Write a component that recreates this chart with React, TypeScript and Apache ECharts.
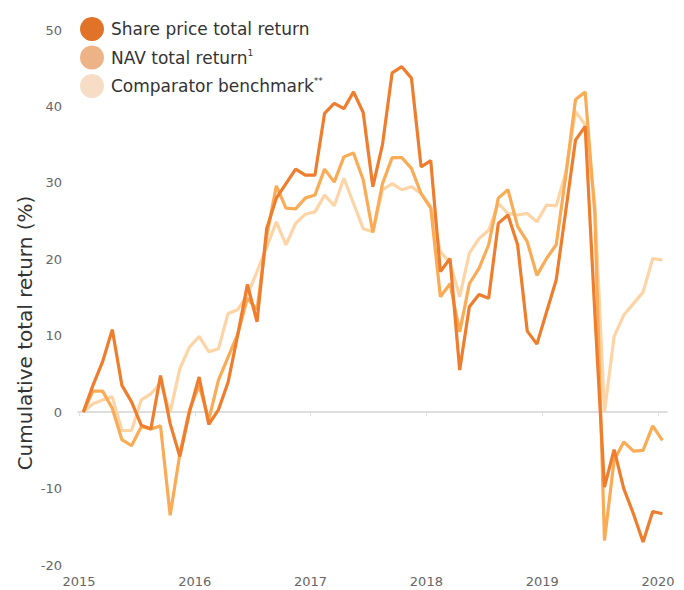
import React, { useEffect, useRef } from "react";
import * as echarts from "echarts";

// Monthly observations, Jan 2015 .. Jan 2020 (plotted mid-month)
const months: string[] = Array.from({ length: 61 }, (_, i) => {
  const y = 2015 + Math.floor(i / 12);
  const m = (i % 12) + 1;
  return `${y}-${m < 10 ? "0" + m : m}`;
});

const sharePrice = [
  0, 3.5, 6.6, 10.8, 3.5, 1.35, -1.7, -2.2, 4.8, -1.5,
  -5.8, 0, 4.6, -1.6, 0.3, 3.9, 10.1, 16.7, 11.8, 24.0,
  28.0, 29.9, 31.8, 31.0, 31.0, 39.1, 40.4, 39.7, 41.9, 39.2,
  29.5, 35.0, 44.4, 45.2, 43.7, 32.1, 32.9, 18.4, 20.1, 5.5,
  13.8, 15.4, 14.9, 24.7, 25.8, 21.9, 10.6, 8.9, 13.1, 17.3,
  26.4, 35.6, 37.4, 13, -9.8, -4.9, -10.0, -13.3, -17.0, -13.0, -13.3,
];

const navReturn = [
  0, 2.75, 2.75, 0.5, -3.6, -4.4, -1.9, -2.2, -1.8, -13.5,
  -5.5, 0.3, 3.5, -1.0, 4.2, 7.2, 10.2, 14.9, 13.4, 23.0,
  29.6, 26.7, 26.6, 28.0, 28.4, 31.8, 30.1, 33.4, 33.9, 30.4,
  23.5, 29.9, 33.3, 33.3, 31.9, 28.6, 26.7, 15.1, 16.8, 10.5,
  16.8, 18.8, 21.9, 28.0, 29.1, 24.3, 22.3, 17.9, 20.1, 21.9,
  31, 40.9, 41.9, 26, -16.8, -6.3, -3.9, -5.1, -5.0, -1.8, -3.7,
];

const benchmark = [
  0, 1.1, 1.6, 2.0, -2.4, -2.4, 1.6, 2.4, 3.8, 0,
  5.7, 8.5, 9.9, 7.9, 8.3, 12.9, 13.4, 15.3, 18.4, 21.6,
  24.9, 21.9, 24.7, 25.9, 26.2, 28.4, 27.0, 30.6, 27.3, 24.0,
  23.6, 29.1, 29.9, 29.1, 29.5, 28.6, 26.9, 21.0, 19.5, 15.1,
  20.8, 22.7, 23.8, 27.3, 26.0, 25.8, 26.0, 24.9, 27.1, 27.0,
  31.4, 39.3, 37.6, 27.3, 0, 9.9, 12.7, 14.2, 15.7, 20.1, 19.9,
];

const yearTicks = [2015, 2016, 2017, 2018, 2019, 2020];

const seriesNames = [
  "Share price total return",
  "NAV total return¹",
  "Comparator benchmark**",
];

const FONT = "'DejaVu Sans', 'Open Sans', sans-serif";

// month index -> x position (month 0 starts at Jan 1 2015; points mid-month)
const toPairs = (vals: number[]) =>
  vals.map((v, i) => [months.indexOf(months[i]) + 0.45, v]);

export default function App() {
  const ref = useRef<HTMLDivElement>(null);

  useEffect(() => {
    if (!ref.current) return;
    const chart = echarts.init(ref.current, undefined, { renderer: "svg" });
    const tickVals = yearTicks.map((y) => (y - 2015) * 12);

    chart.setOption({
      animation: false,
      textStyle: { fontFamily: FONT },
      grid: { left: 78, right: 17, top: 30, bottom: 25, containLabel: false },
      legend: {
        orient: "vertical",
        left: 75,
        top: 12,
        itemWidth: 24,
        itemHeight: 24,
        itemGap: 4.5,
        icon: "circle",
        selectedMode: false,
        data: [
          { name: seriesNames[0], itemStyle: { color: "#E07328" } },
          { name: seriesNames[1], itemStyle: { color: "#EDB285" } },
          { name: seriesNames[2], itemStyle: { color: "#F7DCC6" } },
        ],
        formatter: (name: string) => {
          if (name === seriesNames[1]) return "NAV total return{sup|1}";
          if (name === seriesNames[2]) return "Comparator benchmark{sup|**}";
          return name;
        },
        textStyle: {
          fontFamily: FONT,
          fontSize: 17,
          color: "#333",
          padding: [0, 0, 0, 2],
          rich: {
            sup: {
              fontFamily: FONT,
              fontSize: 9,
              color: "#333",
              padding: [0, 0, 10, 0],
            },
          },
        },
      },
      xAxis: [
        {
          type: "value",
          min: -0.1,
          max: 60.93,
          position: "bottom",
          axisLine: { show: true, onZero: true, lineStyle: { color: "#dedede", width: 2 } },
          axisTick: {
            show: true,
            customValues: tickVals,
            length: 4,
            lineStyle: { color: "#dedede", width: 1 },
          },
          axisLabel: { show: false },
          splitLine: { show: false },
        },
        {
          type: "value",
          min: -0.1,
          max: 60.93,
          position: "bottom",
          axisLine: { show: false, onZero: false },
          axisTick: { show: false },
          axisLabel: {
            show: true,
            customValues: tickVals,
            formatter: (v: number) => String(2015 + Math.round(v / 12)),
            color: "#666",
            fontSize: 13,
            fontFamily: FONT,
            margin: 10,
          },
          splitLine: { show: false },
        },
      ],
      yAxis: {
        type: "value",
        min: -20,
        max: 50,
        interval: 10,
        axisLine: { show: false },
        axisTick: { show: false },
        splitLine: { show: false },
        axisLabel: { color: "#666", fontSize: 13, fontFamily: FONT, margin: 16 },
      },
      graphic: [
        {
          type: "text",
          x: 25,
          y: 333,
          rotation: Math.PI / 2,
          style: {
            text: "Cumulative total return (%)",
            fontFamily: FONT,
            fontSize: 20,
            fill: "#333",
            textAlign: "center",
            textVerticalAlign: "middle",
          },
        },
      ],
      series: [
        {
          name: seriesNames[2],
          type: "line",
          xAxisIndex: 0,
          data: toPairs(benchmark),
          showSymbol: false,
          lineStyle: { color: "#FDD4A6", width: 3.2 },
          itemStyle: { color: "#FDD4A6" },
          z: 2,
        },
        {
          name: seriesNames[1],
          type: "line",
          xAxisIndex: 0,
          data: toPairs(navReturn),
          showSymbol: false,
          lineStyle: { color: "#F9AB56", width: 3.2 },
          itemStyle: { color: "#F9AB56" },
          z: 3,
        },
        {
          name: seriesNames[0],
          type: "line",
          xAxisIndex: 0,
          data: toPairs(sharePrice),
          showSymbol: false,
          lineStyle: { color: "#EE7D2D", width: 3.2 },
          itemStyle: { color: "#EE7D2D" },
          z: 4,
        },
      ],
    });

    return () => chart.dispose();
  }, []);

  return (
    <div
      ref={ref}
      style={{ position: "fixed", left: 0, top: 0, width: 684, height: 590, background: "#fff" }}
    />
  );
}
